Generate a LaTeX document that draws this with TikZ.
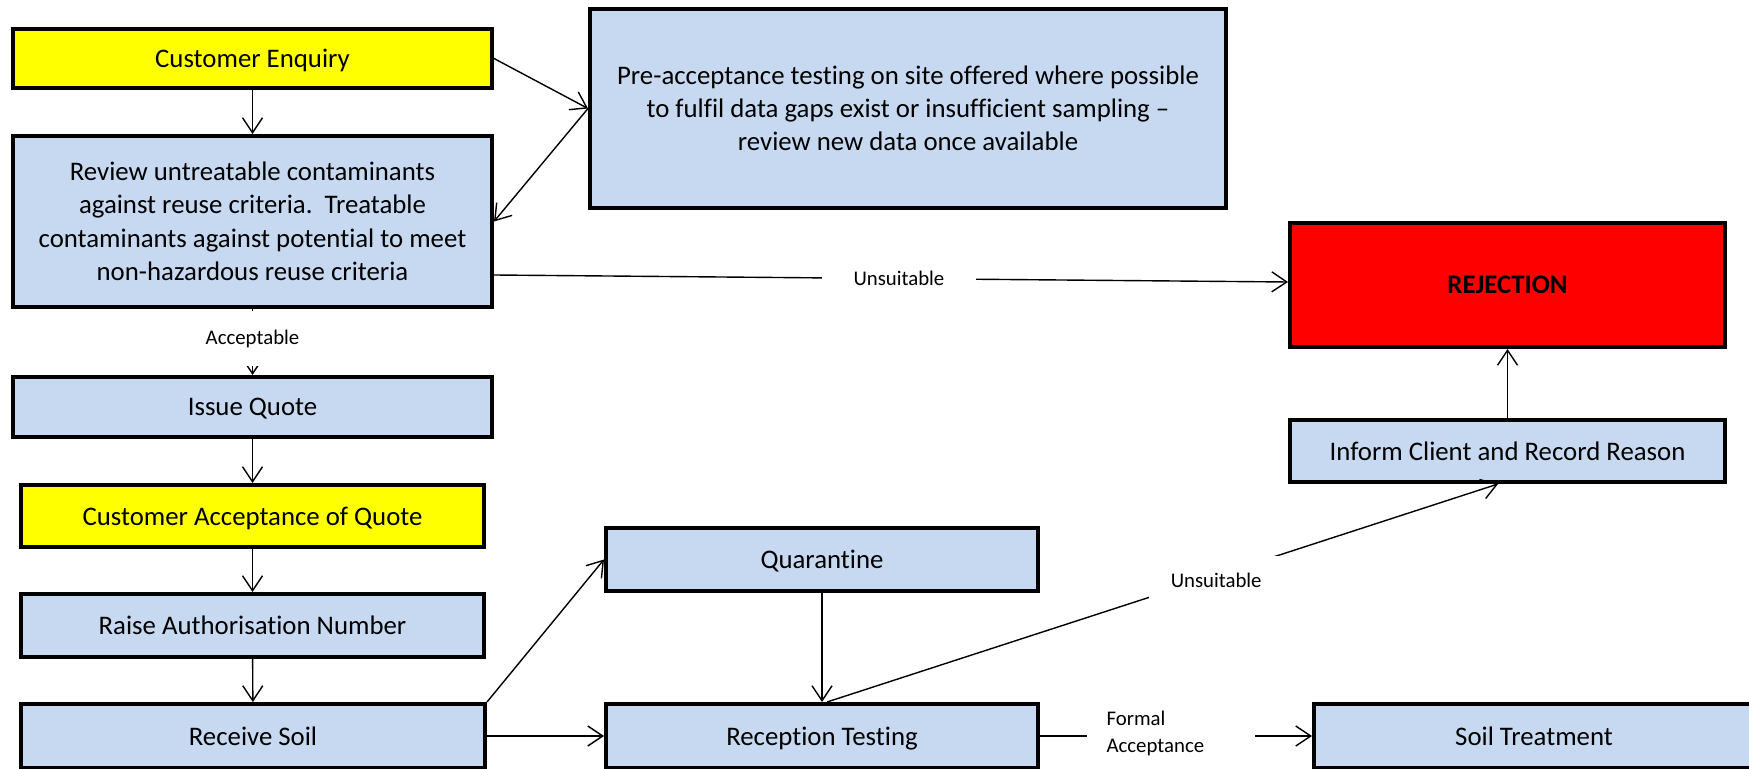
\documentclass[tikz,border=0pt]{standalone}
\usepackage{fontspec}
\setmainfont{Carlito}[Ligatures={NoCommon,NoContextual}]
\usetikzlibrary{arrows.meta}
\definecolor{paleblue}{HTML}{C6D9F1}
\definecolor{flowyellow}{HTML}{FFFF00}
\definecolor{flowred}{HTML}{FF0000}
% struts that give every box the same text height and depth
\newcommand{\topstrut}{\rule{0pt}{11pt}}
\newcommand{\botstrut}{\rule[-2pt]{0pt}{2pt}}
\begin{document}
\begin{tikzpicture}[x=0.5pt,y=-0.5pt,
  box/.style={draw=black, line width=2pt, fill=paleblue, align=center, inner sep=0pt,
    font=\fontsize{13.4}{16.6}\selectfont},
  single/.style={text height=11pt, text depth=2pt},
  conn/.style={line width=0.7pt, -{Straight Barb[length=7.5pt,width=10pt,line width=0.7pt]}},
  lbl/.style={fill=white, inner sep=0pt, font=\fontsize{10.4}{13.4}\selectfont}]
\clip (0,0) rectangle (1749,769);

% process boxes
\node[box, single, fill=flowyellow, minimum width=239.5pt, minimum height=29.5pt] (ce) at (252.5,58.5) {Customer Enquiry};
\node[box, minimum width=239.5pt, minimum height=85.5pt] (review) at (252.5,221.5)
  {\topstrut Review untreatable contaminants\\against reuse criteria.\ \ Treatable\\contaminants against potential to meet\\non-hazardous reuse criteria\botstrut};
\node[box, minimum width=318pt, minimum height=99.5pt] (pre) at (908,108.5)
  {\topstrut Pre-acceptance testing on site offered where possible\\to fulfil data gaps exist or insufficient sampling –\\review new data once available\botstrut};
\node[box, single, fill=flowred, minimum width=217.5pt, minimum height=62pt] (rej) at (1507.5,285) {\textbf{REJECTION}};
\node[box, single, minimum width=217.5pt, minimum height=31pt] (inform) at (1507.5,451) {Inform Client and Record Reason};
\node[box, single, minimum width=239.5pt, minimum height=30pt] (issue) at (252.5,407) {Issue Quote};
\node[box, single, fill=flowyellow, minimum width=231.5pt, minimum height=31pt] (accept) at (252.5,516) {Customer Acceptance of Quote};
\node[box, single, minimum width=231.5pt, minimum height=31.5pt] (raise) at (252.5,625.5) {Raise Authorisation Number};
\node[box, single, minimum width=232pt, minimum height=32pt] (receive) at (253,736) {Receive Soil};
\node[box, single, minimum width=216pt, minimum height=31.5pt] (quar) at (822,559.5) {Quarantine};
\node[box, single, minimum width=216pt, minimum height=32pt] (recep) at (822,736) {Reception Testing};
\node[box, single, minimum width=220pt, minimum height=32pt] (soil) at (1534,736) {Soil Treatment};

% connectors
\draw[conn] (ce) -- (review);
\draw[conn] (ce.east) -- (pre.west);
\draw[conn] (pre.west) -- (review.east);
\draw[conn] ([yshift=-26.75pt]review.east) --
  node[lbl, pos=0.51, minimum width=77pt, minimum height=16pt] {Unsuitable} ([yshift=1.5pt]rej.west);
\draw[conn] (review.south) --
  node[lbl, pos=0.5, yshift=1.5pt, minimum width=60pt, minimum height=27.5pt] {Acceptable} (issue.north);
\draw[conn] (issue) -- (accept);
\draw[conn] (accept) -- (raise);
\draw[conn] (raise) -- (receive);
\draw[conn] (receive.north east) -- (quar.west);
\draw[conn] (receive.east) -- (recep.west);
\draw[conn] (quar) -- (recep);
\draw[conn] ([xshift=2.5pt]recep.north) --
  node[lbl, pos=0.58, yshift=-2.2pt, minimum width=67pt, minimum height=24pt] {Unsuitable} ([xshift=-4.75pt]inform.south);
\draw[conn] (inform) -- (rej);
\draw[conn] (recep.east) --
  node[lbl, pos=0.48, yshift=1.15pt, inner xsep=10pt, text width=64pt, align=left] {Formal\\Acceptance} (soil.west);
\end{tikzpicture}
\end{document}
